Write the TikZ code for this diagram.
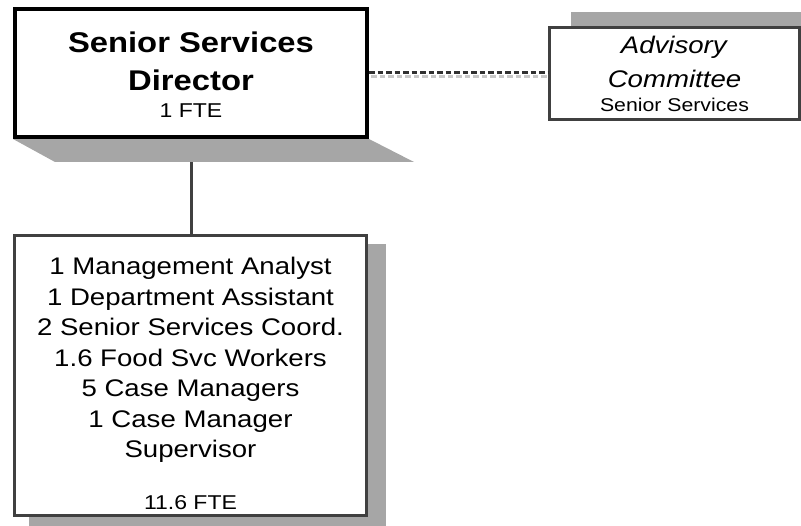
\documentclass[tikz,border=0pt]{standalone}
\usepackage{fontspec}
\newfontfamily\orgfont[FakeStretch=1.15]{Liberation Sans}
\usetikzlibrary{backgrounds,calc}
\definecolor{shadowgray}{HTML}{A6A6A6}
\definecolor{boxline}{HTML}{404040}
\definecolor{dashline}{HTML}{303030}
\definecolor{dashshade}{HTML}{C8C8C8}

\begin{document}
\begin{tikzpicture}[x=1pt,y=1pt,
	orgbox/.style={draw=boxline,line width=3pt,fill=white,align=center,inner sep=0pt},
	linkline/.style={draw=dashline,line width=3pt,dash pattern=on 5.5pt off 3pt}]
	
	\useasboundingbox (0,0) rectangle (801,-526);
	
	% Director box
	\node[orgbox,draw=black,line width=4pt,minimum width=352pt,minimum height=128pt,
	font=\orgfont\bfseries\fontsize{28.5}{38}\selectfont] (director) at (191,-73)
	{\rule{0pt}{25pt}Senior Services\\Director\\[-11pt]{\mdseries\fontsize{20}{20}\selectfont 1 FTE}};
	
	% Advisory committee box
	\node[orgbox,minimum width=250pt,minimum height=92pt,
	font=\orgfont\fontsize{24}{34}\selectfont] (advisory) at (674.5,-73.5)
	{\textit{Advisory}\\\textit{Committee}\\[-10pt]{\fontsize{18.5}{18.5}\selectfont Senior Services}};
	
	% Staff box
	\node[orgbox,minimum width=352pt,minimum height=280pt,
	font=\orgfont\fontsize{24}{30.5}\selectfont] (staff) at (190.5,-375.5)
	{\rule{0pt}{33pt}1 Management Analyst\\1 Department Assistant\\2 Senior Services Coord.\\
		1.6 Food Svc Workers\\5 Case Managers\\1 Case Manager\\Supervisor\\[21pt]
		{\fontsize{20}{20}\selectfont 11.6 FTE}};
	
	% Dotted link to the committee
	\draw[linkline] (director.east) -- (director.east -| advisory.west);
	
	\begin{scope}[on background layer]
		% Reporting line
		\draw[boxline,line width=3pt] (director.south) -- (director.south |- staff.north);
		
		% Shadows
		\fill[shadowgray] (director.south west) -- (director.south east)
		-- ++(45,-23) -- ($(director.south west)+(42,-23)$) -- cycle;
		\fill[shadowgray] ($(advisory.south west)+(23,14)$) rectangle ($(advisory.north east)+(23,14)$);
		\fill[shadowgray] ($(staff.south west)+(16,-10)$) rectangle ($(staff.north east)+(18,-10)$);
		\draw[linkline,draw=dashshade] ($(director.east)+(2,-4)$) -- ($(director.east -| advisory.west)+(2,-4)$);
	\end{scope}
	
\end{tikzpicture}
\end{document}
